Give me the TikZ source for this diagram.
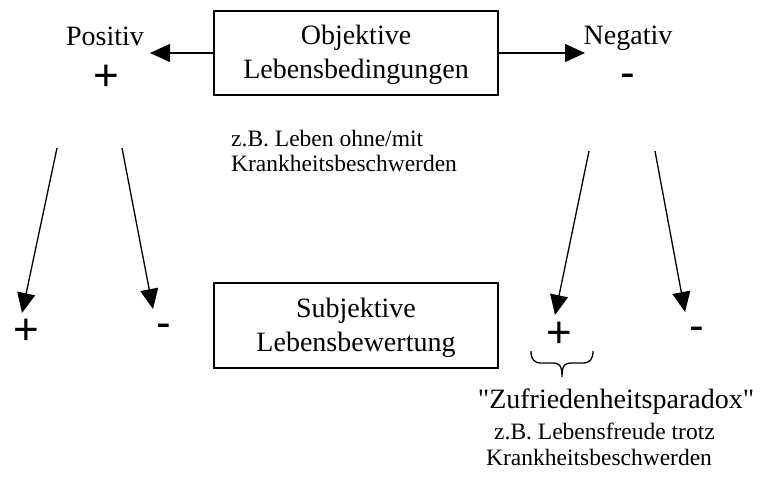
\documentclass[tikz,border=0pt]{standalone}
\usepackage{fontspec}
\setmainfont{Liberation Serif}[Ligatures=TeXOff]
\newfontfamily\sansf{Liberation Sans}
\usetikzlibrary{arrows.meta}
\tikzset{
  boxnode/.style={draw, line width=1.6pt, minimum width=284pt, minimum height=84pt, inner sep=0pt, align=center, font=\fontsize{28}{34}\selectfont},
  bigtext/.style={inner sep=0pt, anchor=base, font=\fontsize{28}{34}\selectfont},
  smalltext/.style={inner sep=0pt, anchor=base west, font=\fontsize{23.5}{28}\selectfont},
  sign/.style={inner sep=0pt, anchor=base, font=\sansf\fontsize{44}{50}\selectfont},
  arr/.style={line width=1.3pt, -{Triangle[length=20pt,width=18pt]}},
  bracepath/.style={line width=1.3pt}
}
\begin{document}
\begin{tikzpicture}[x=1pt,y=-1pt]
\useasboundingbox (0,0) rectangle (763,488);
% top
\node[boxnode] (obj) at (356,53) {\rule{0pt}{23pt}Objektive\\Lebensbedingungen};
\node[bigtext] (pos) at (105,45) {Positiv};
\node[sign] (posplus) at (106,90.5) {+};
\node[bigtext] (neg) at (628,44) {Negativ};
\node[sign] (negminus) at (628,87) {-};
\coordinate (ptip) at (150,53);
\coordinate (ntip) at (585,53);
\draw[arr] (obj.west) -- (ptip);
\draw[arr] (obj.east) -- (ntip);
\node[smalltext] (ex1a) at (231,146) {z.B. Leben ohne/mit};
\node[smalltext] (ex1b) at (231,171) {Krankheitsbeschwerden};
% diagonal arrows
\coordinate (s1) at (57,148);
\coordinate (s2) at (122,148);
\coordinate (s3) at (589,151);
\coordinate (s4) at (655,151);
\node[sign] (bp1) at (26.5,344.5) {+};
\node[sign] (bm1) at (164,337) {-};
\node[sign] (bp2) at (559,347.5) {+};
\node[sign] (bm2) at (697,340) {-};
\coordinate (t1) at (22,313);
\coordinate (t2) at (153,309);
\coordinate (t3) at (555,315);
\coordinate (t4) at (685,312);
\draw[arr] (s1) -- (t1);
\draw[arr] (s2) -- (t2);
\draw[arr] (s3) -- (t3);
\draw[arr] (s4) -- (t4);
% bottom box
\node[boxnode, minimum height=85pt] (sub) at (356,325.5) {\rule{0pt}{24.5pt}Subjektive\\Lebensbewertung};
% brace
\coordinate (bl) at (531,351);
\coordinate (br) at (593,351);
\coordinate (bt) at (562,377);
\draw[bracepath] (bl) .. controls (531,359) and (534,363) .. (541,363) -- (553,363)
  .. controls (559,363) and (562,365) .. (bt)
  .. controls (562,365) and (565,363) .. (571,363) -- (583,363)
  .. controls (590,363) and (593,359) .. (br);
\node[bigtext] (para) at (616,408) {"Zufriedenheitsparadox"};
\node[smalltext] (ex2a) at (494,439) {z.B. Lebensfreude trotz};
\node[smalltext] (ex2b) at (486,465) {Krankheitsbeschwerden};
\end{tikzpicture}
\end{document}
